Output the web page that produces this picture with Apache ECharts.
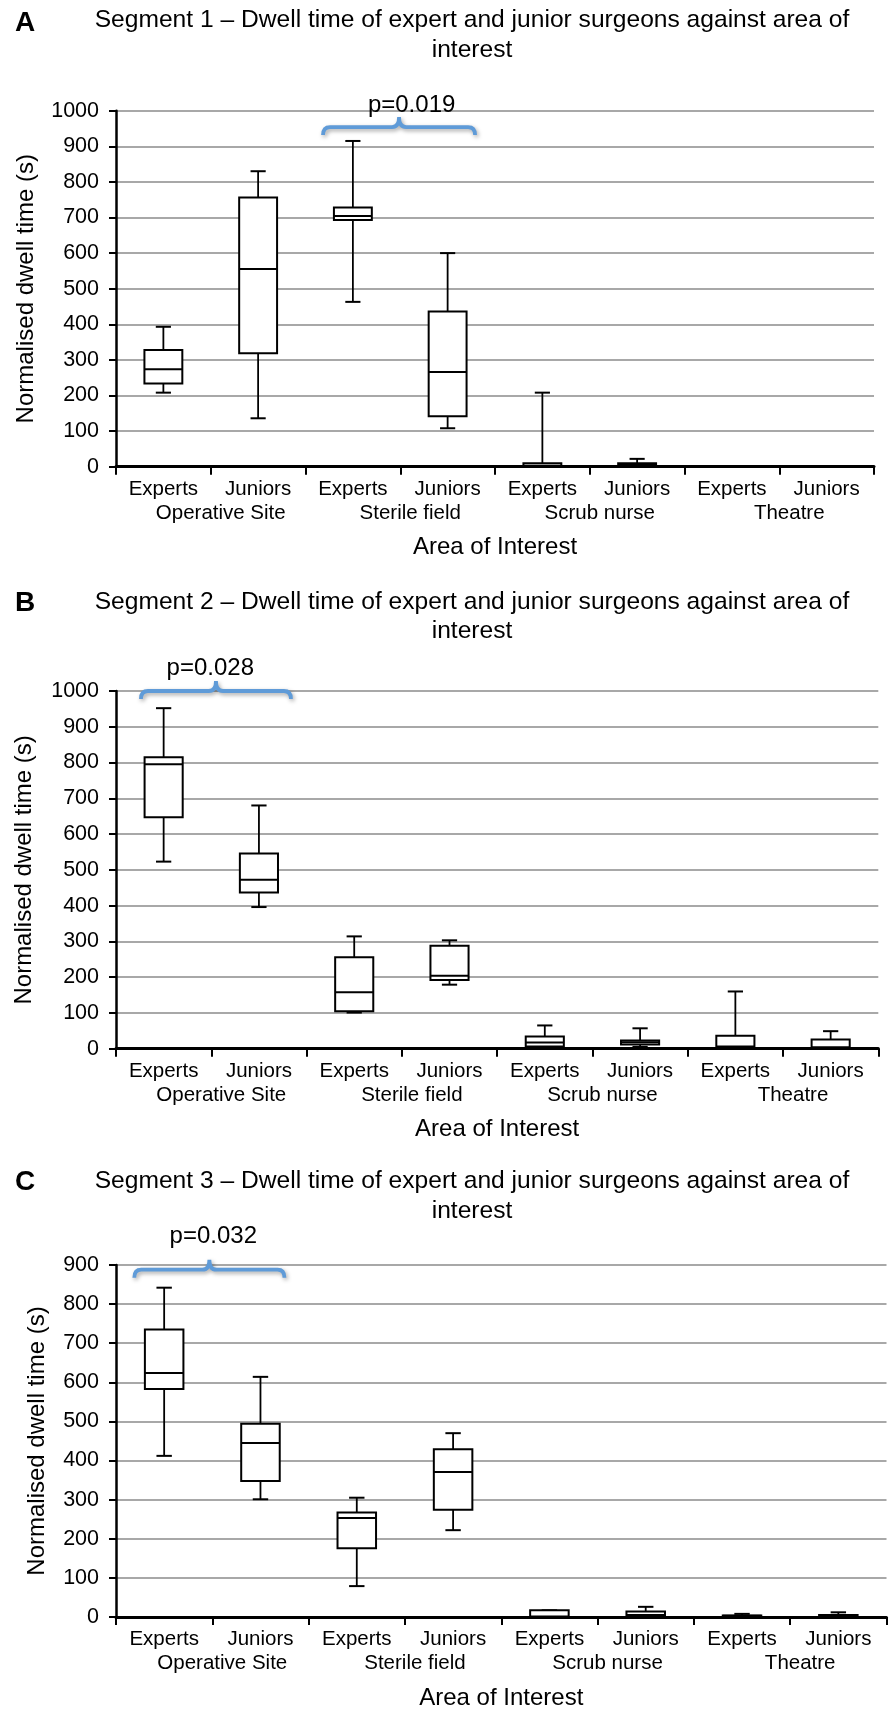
<!DOCTYPE html>
<html><head><meta charset="utf-8">
<script src="https://cdn.jsdelivr.net/npm/echarts@6/dist/echarts.min.js"></script>
<style>html,body{margin:0;padding:0;background:#fff}#c{width:890px;height:1711px}</style>
</head><body><div id="c"></div>
<script>
// ---- data ----
const categories = ['Experts','Juniors','Experts','Juniors','Experts','Juniors','Experts','Juniors'];
const groups = ['Operative Site','Sterile field','Scrub nurse','Theatre'];
const yMax = [1000, 1000, 900];
const yInterval = 100;
// each box: [min, Q1, median, Q3, max]
const seg1Boxes = [
  [208, 234, 274, 328, 393],
  [136, 319, 555, 756, 830],
  [463, 693, 704, 728, 915],
  [108, 142, 266, 436, 600],
  [0, 0, 3, 10, 208],
  [1, 2, 6, 10, 22],
  [0, 0, 0, 1, 1],
  [0, 0, 0, 1, 1]
];
const seg2Boxes = [
  [523, 647, 795, 815, 952],
  [396, 437, 472, 546, 680],
  [101, 105, 158, 256, 314],
  [179, 192, 204, 288, 303],
  [5, 6, 17, 34, 65],
  [5, 12, 18, 23, 57],
  [0, 3, 6, 36, 160],
  [0, 2, 4, 26, 49]
];
const seg3Boxes = [
  [412, 583, 624, 735, 842],
  [301, 348, 445, 494, 614],
  [79, 176, 253, 267, 305],
  [222, 274, 371, 429, 470],
  [0, 0, 1, 17, 17],
  [0, 2, 5, 14, 26],
  [0, 1, 3, 4, 8],
  [0, 1, 3, 5, 12]
];
const panelLetters = ['A', 'B', 'C'];
const panelTitles = [
  'Segment 1 \u2013 Dwell time of expert and junior surgeons against area of\ninterest',
  'Segment 2 \u2013 Dwell time of expert and junior surgeons against area of\ninterest',
  'Segment 3 \u2013 Dwell time of expert and junior surgeons against area of\ninterest'
];
const pValues = ['p=0.019', 'p=0.028', 'p=0.032'];
// brace span in category units (0 = left edge of first category), and level in data units
const braceSpans = [[2.185, 3.79], [0.262, 1.836], [0.19, 1.749]];
const braceLevels = [954, 1000, 888];
const pLabelPos = [[3.12, 1016], [0.99, 1064], [1.01, 973]];
const xAxisName = 'Area of Interest';
const yAxisName = 'Normalised dwell time (s)';

// ---- layout / style ----
const FONT = '"Liberation Sans", Arial, sans-serif';
const layout = [
  { top: 110.7, height: 356, right: 16, titleY: 35, letterY: 23, nameGap: 78 },
  { top: 691, height: 357.7, right: 11.7, titleY: 616.5, letterY: 603, nameGap: 80 },
  { top: 1265, height: 355.3, right: 3.5, titleY: 1196, letterY: 1182, nameGap: 67 }
];
const allBoxes = [seg1Boxes, seg2Boxes, seg3Boxes];

function renderBox(params, api) {
  const x = api.value(0);
  const pMin = api.coord([x, api.value(1)]);
  const pQ1 = api.coord([x, api.value(2)]);
  const pMed = api.coord([x, api.value(3)]);
  const pQ3 = api.coord([x, api.value(4)]);
  const pMax = api.coord([x, api.value(5)]);
  const band = api.size([1, 0])[0];
  const bw = band * 0.40, cw = band * 0.16;
  const cx = pMed[0];
  const ls = { stroke: '#000', lineWidth: 2, fill: 'none' };
  const wl = { stroke: '#000', lineWidth: 1.8 };
  return {
    type: 'group',
    children: [
      { type: 'line', shape: { x1: cx, y1: pQ3[1], x2: cx, y2: pMax[1] }, style: wl },
      { type: 'line', shape: { x1: cx, y1: pQ1[1], x2: cx, y2: pMin[1] }, style: wl },
      { type: 'line', shape: { x1: cx - cw / 2, y1: pMax[1], x2: cx + cw / 2, y2: pMax[1] }, style: ls },
      { type: 'line', shape: { x1: cx - cw / 2, y1: pMin[1], x2: cx + cw / 2, y2: pMin[1] }, style: ls },
      { type: 'rect', shape: { x: cx - bw / 2, y: pQ3[1], width: bw, height: pQ1[1] - pQ3[1] }, style: { fill: '#fff', stroke: '#000', lineWidth: 2 } },
      { type: 'line', shape: { x1: cx - bw / 2, y1: pMed[1], x2: cx + bw / 2, y2: pMed[1] }, style: ls }
    ]
  };
}

function makeBraceRenderer(i) {
  return function (params, api) {
    const c0 = api.coord([0, api.value(2)]);
    const band = api.size([1, 0])[0];
    const left = c0[0] - band / 2;
    const x0 = left + api.value(0) * band;
    const x1 = left + api.value(1) * band;
    const yH = c0[1];
    const xm = (x0 + x1) / 2;
    const d = 8, t = 10, r = 7;
    const path = 'M' + x0 + ' ' + (yH + d) +
      ' Q' + x0 + ' ' + yH + ' ' + (x0 + r) + ' ' + yH +
      ' L' + (xm - r) + ' ' + yH +
      ' Q' + xm + ' ' + yH + ' ' + xm + ' ' + (yH - t) +
      ' Q' + xm + ' ' + yH + ' ' + (xm + r) + ' ' + yH +
      ' L' + (x1 - r) + ' ' + yH +
      ' Q' + x1 + ' ' + yH + ' ' + x1 + ' ' + (yH + d);
    const lp = api.coord([0, api.value(4)]);
    const lx = left + api.value(3) * band;
    return {
      type: 'group',
      children: [
        { type: 'path', shape: { pathData: path }, style: { fill: 'none', stroke: '#5f9bd8', lineWidth: 3.8, shadowBlur: 4, shadowColor: 'rgba(0,0,0,0.35)', shadowOffsetX: 1.5, shadowOffsetY: 2 } },
        { type: 'text', style: { text: pValues[i], x: lx, y: lp[1], align: 'center', verticalAlign: 'middle', textAlign: 'center', textVerticalAlign: 'middle', font: '24px ' + FONT, fill: '#000' } }
      ]
    };
  };
}

const grid = [], xAxis = [], yAxis = [], series = [], graphic = [];
layout.forEach((l, i) => {
  grid.push({ left: 116, right: l.right, top: l.top, height: l.height });
  xAxis.push({
    type: 'category', gridIndex: i, data: categories, position: 'bottom',
    axisLine: { show: true, lineStyle: { color: '#000', width: 3 } },
    axisTick: { show: true, length: 8, interval: 0, lineStyle: { color: '#000', width: 2 } },
    axisLabel: { interval: 0, margin: 12, fontSize: 20.5, fontFamily: FONT, color: '#000' },
    splitLine: { show: false }
  });
  xAxis.push({
    type: 'category', gridIndex: i, data: groups, position: 'bottom',
    axisLine: { show: false }, axisTick: { show: false },
    axisLabel: { interval: 0, margin: 36, fontSize: 20.5, fontFamily: FONT, color: '#000', padding: [0, 0, 0, 20] },
    splitLine: { show: false },
    name: xAxisName, nameLocation: 'middle', nameGap: 69,
    nameTextStyle: { fontSize: 24, fontFamily: FONT, color: '#000' }
  });
  yAxis.push({
    type: 'value', gridIndex: i, min: 0, max: yMax[i], interval: yInterval,
    axisLine: { show: true, lineStyle: { color: '#000', width: 2.5 } },
    axisTick: { show: true, length: 7, lineStyle: { color: '#000', width: 2 } },
    axisLabel: { margin: 17, fontSize: 21.5, fontFamily: FONT, color: '#000', formatter: v => String(v) },
    splitLine: { show: true, lineStyle: { color: '#a8a8a8', width: 2 } },
    name: yAxisName, nameLocation: 'middle', nameRotate: 90, nameGap: l.nameGap,
    nameTextStyle: { fontSize: 24, fontFamily: FONT, color: '#000' }
  });
  series.push({
    type: 'custom', xAxisIndex: 2 * i, yAxisIndex: i,
    data: allBoxes[i].map((b, k) => [k].concat(b)),
    encode: { x: 0, y: [1, 2, 3, 4, 5] },
    renderItem: renderBox, clip: false, z: 3
  });
  series.push({
    type: 'custom', xAxisIndex: 2 * i, yAxisIndex: i,
    data: [[braceSpans[i][0], braceSpans[i][1], braceLevels[i], pLabelPos[i][0], pLabelPos[i][1]]],
    encode: { x: -1, y: 2 },
    renderItem: makeBraceRenderer(i), clip: false, z: 4, silent: true
  });
  graphic.push({ type: 'text', x: 25, y: l.letterY, style: { text: panelLetters[i], textAlign: 'center', textVerticalAlign: 'middle', align: 'center', verticalAlign: 'middle', font: 'bold 28px ' + FONT, fill: '#000' } });
  graphic.push({ type: 'text', x: 472, y: l.titleY, style: { text: panelTitles[i], textAlign: 'center', textVerticalAlign: 'middle', align: 'center', verticalAlign: 'middle', font: '24.6px ' + FONT, lineHeight: 29.5, fill: '#000' } });
});

const chart = echarts.init(document.getElementById('c'), null, { renderer: 'canvas' });
chart.setOption({ animation: false, backgroundColor: '#fff', grid, xAxis, yAxis, series, graphic });
</script></body></html>
